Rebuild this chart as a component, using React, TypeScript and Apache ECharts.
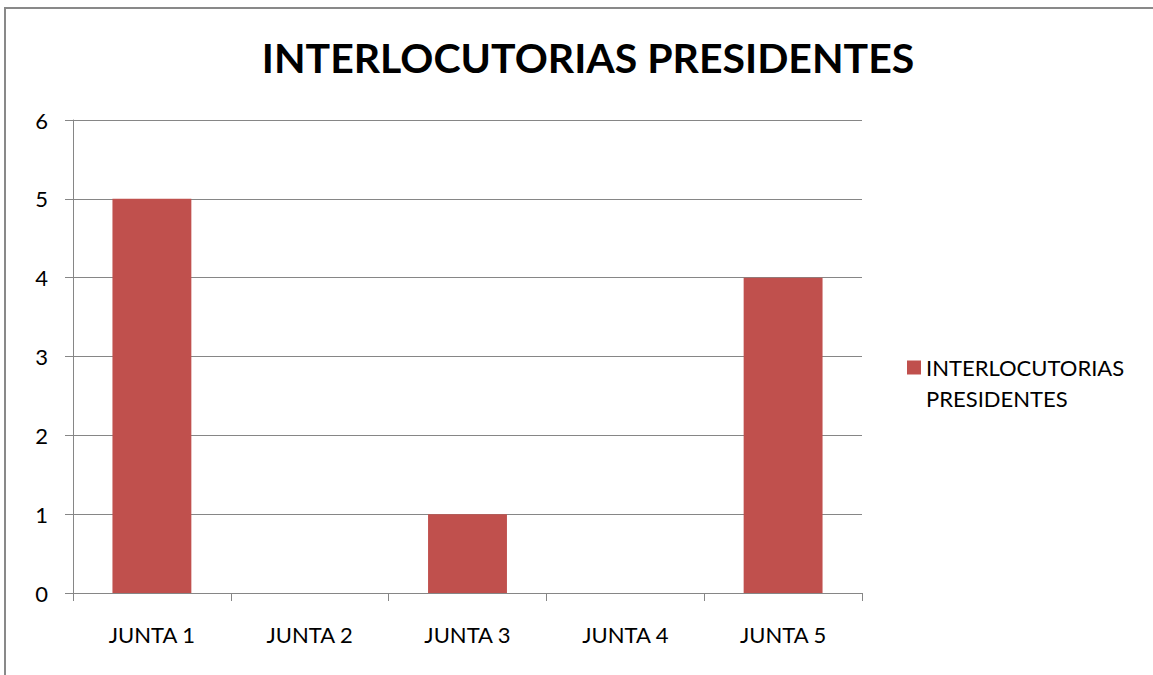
import React, { useEffect, useRef } from "react";
import * as echarts from "echarts";

const categories = ["JUNTA 1", "JUNTA 2", "JUNTA 3", "JUNTA 4", "JUNTA 5"];
const seriesName = "INTERLOCUTORIAS PRESIDENTES";
const values = [5, 0, 1, 0, 4];
const titleText = "INTERLOCUTORIAS PRESIDENTES";

export default function App() {
  const ref = useRef<HTMLDivElement>(null);
  useEffect(() => {
    if (!ref.current) return;
    const chart = echarts.init(ref.current, undefined, { renderer: "svg" });
    const font = "Lato, 'Open Sans', sans-serif";
    chart.setOption({
      animation: false,
      backgroundColor: "#ffffff",
      textStyle: { fontFamily: font },
      title: {
        text: titleText,
        left: 583,
        textAlign: "center",
        top: 32,
        textStyle: { fontFamily: font, fontSize: 41, fontWeight: "bold", color: "#000000" },
      },
      graphic: [
        { type: "line", shape: { x1: 4, y1: 8, x2: 1153, y2: 8 }, style: { stroke: "#898989", lineWidth: 2 } },
        { type: "line", shape: { x1: 5, y1: 8, x2: 5, y2: 675 }, style: { stroke: "#898989", lineWidth: 2 } },
      ],
      legend: {
        left: 902,
        top: 316,
        orient: "vertical",
        icon: "rect",
        itemWidth: 14,
        itemHeight: 14,
        data: [seriesName],
        formatter: (n: string) => "\n" + n.replace(" ", "\n"),
        textStyle: { fontFamily: font, fontSize: 22, color: "#000000", lineHeight: 31 },
      },
      grid: { left: 73, right: 291, top: 120, bottom: 82 },
      xAxis: {
        type: "category",
        data: categories,
        axisLine: { show: true, lineStyle: { color: "#868686", width: 1 } },
        axisTick: { show: true, length: 8, lineStyle: { color: "#868686" } },
        axisLabel: { color: "#000000", fontSize: 22, margin: 30, fontFamily: font },
      },
      yAxis: {
        type: "value",
        min: 0,
        max: 6,
        interval: 1,
        axisLine: { show: true, lineStyle: { color: "#868686", width: 1 } },
        axisTick: { show: true, length: 8, lineStyle: { color: "#868686" } },
        axisLabel: { color: "#000000", fontSize: 22, margin: 25, fontFamily: font },
        splitLine: { show: true, lineStyle: { color: "#868686", width: 1 } },
      },
      series: [
        {
          name: seriesName,
          type: "bar",
          data: values,
          barWidth: "50%",
          itemStyle: { color: "#C0504D" },
        },
      ],
    });
    return () => chart.dispose();
  }, []);
  return <div ref={ref} style={{ position: "fixed", left: 0, top: 0, width: 1153, height: 675 }} />;
}
